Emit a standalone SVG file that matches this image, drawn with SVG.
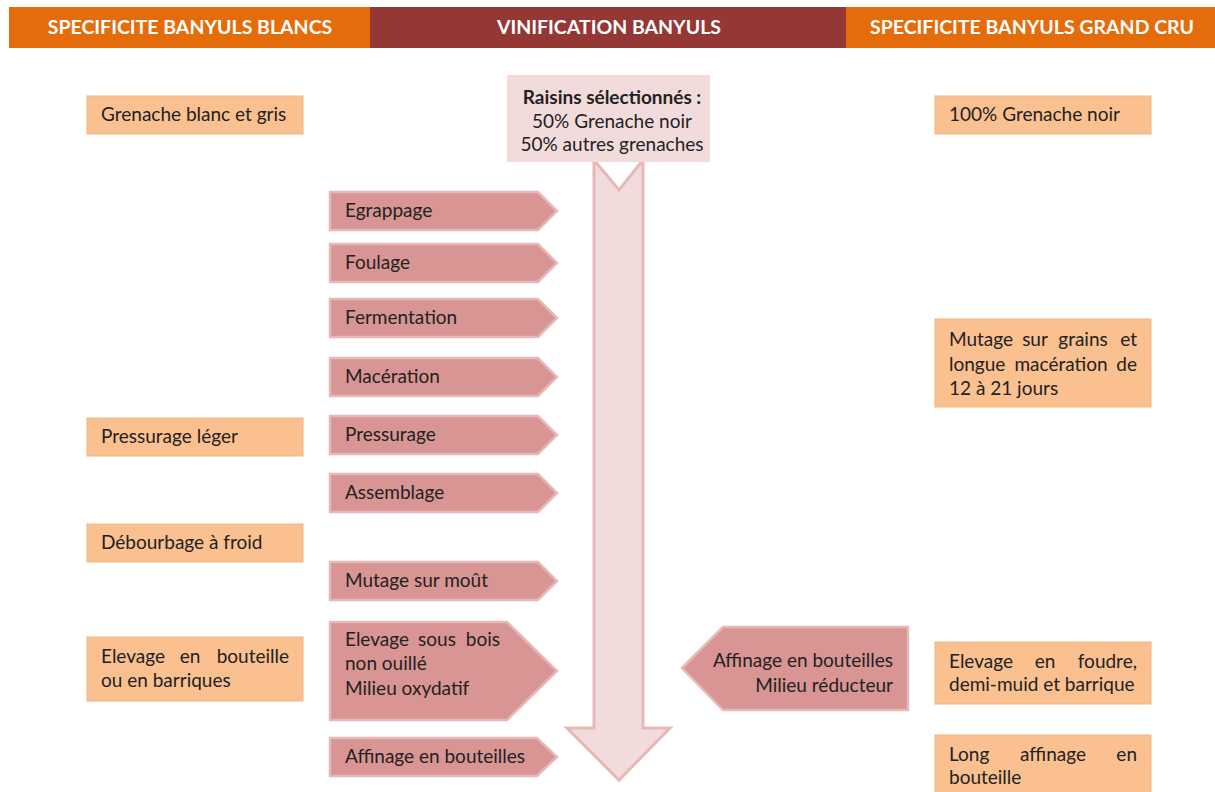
<svg xmlns="http://www.w3.org/2000/svg" width="1215" height="792" viewBox="0 0 1215 792">
<style>
.hdr{font-family:Lato,"Liberation Sans",sans-serif;font-weight:bold;font-size:19.5px;fill:#fff;text-anchor:middle}
.t{font-family:Lato,"Liberation Sans",sans-serif;font-size:19px;fill:#222}
.b{font-weight:bold}
.box{fill:#FAC090;stroke:#F2B583;stroke-width:1}
.pent{fill:#D99594;stroke:#E6B9B8;stroke-width:2.5}
.big{fill:#F2DCDB;stroke:#E6B9B8;stroke-width:3}
.top{fill:#F2DCDB;stroke:none}
</style>
<rect width="1215" height="792" fill="#fff"/>
<g id="header">
<rect x="9" y="7" width="361" height="41" fill="#E46C0A"/>
<rect x="370" y="7" width="476" height="41" fill="#953735"/>
<rect x="846" y="7" width="369" height="41" fill="#E46C0A"/>
<text class="hdr" x="190" y="34">SPECIFICITE BANYULS BLANCS</text>
<text class="hdr" x="609" y="34">VINIFICATION BANYULS</text>
<text class="hdr" x="1032" y="34">SPECIFICITE BANYULS GRAND CRU</text>
</g>
<g id="connectors">
<polygon class="big" points="594,160 619,190 643,160 643,728 670,728 619,780 567,728 594,728"/>
</g>
<g id="raisins">
<rect class="top" x="507" y="75" width="203" height="87"/>
<text class="t" text-anchor="middle" x="612"><tspan class="b" x="612" y="104">Raisins sélectionnés :</tspan><tspan x="612" y="128">50% Grenache noir</tspan><tspan x="612" y="151">50% autres grenaches</tspan></text>
</g>
<g id="egrappage">
<polygon class="pent" points="330,192 538,192 557,211 538,230 330,230"/>
<text class="t" x="345" y="217">Egrappage</text>
</g>
<g id="foulage">
<polygon class="pent" points="330,244 538,244 557,263 538,282 330,282"/>
<text class="t" x="345" y="269">Foulage</text>
</g>
<g id="fermentation">
<polygon class="pent" points="330,299 538,299 557,318 538,337 330,337"/>
<text class="t" x="345" y="324">Fermentation</text>
</g>
<g id="maceration">
<polygon class="pent" points="330,358 538,358 557,377 538,396 330,396"/>
<text class="t" x="345" y="383">Macération</text>
</g>
<g id="pressurage">
<polygon class="pent" points="330,416 538,416 557,435 538,454 330,454"/>
<text class="t" x="345" y="441">Pressurage</text>
</g>
<g id="assemblage">
<polygon class="pent" points="330,474 538,474 557,493 538,512 330,512"/>
<text class="t" x="345" y="499">Assemblage</text>
</g>
<g id="mutage-mout">
<polygon class="pent" points="330,562 538,562 557,581 538,600 330,600"/>
<text class="t" x="345" y="587">Mutage sur moût</text>
</g>
<g id="elevage-bois">
<polygon class="pent" points="330,622 507,622 557,671 507,720 330,720"/>
<text class="t"><tspan x="345" y="646">Elevage</tspan><tspan x="437" y="646" text-anchor="middle">sous</tspan><tspan x="500" y="646" text-anchor="end">bois</tspan><tspan x="345" y="670">non ouillé</tspan><tspan x="345" y="695">Milieu oxydatif</tspan></text>
</g>
<g id="affinage">
<polygon class="pent" points="330,738 537,738 557,757 537,776 330,776"/>
<text class="t" x="345" y="763">Affinage en bouteilles</text>
</g>
<g id="affinage-reducteur">
<polygon class="pent" points="682,668 723,627 908,627 908,710 723,710"/>
<text class="t" text-anchor="end"><tspan x="893" y="667">Affinage en bouteilles</tspan><tspan x="893" y="692">Milieu réducteur</tspan></text>
</g>
<g id="grenache-blanc">
<rect class="box" x="87" y="96" width="216" height="38"/>
<text class="t" x="101" y="121">Grenache blanc et gris</text>
</g>
<g id="pressurage-leger">
<rect class="box" x="87" y="418" width="216" height="38"/>
<text class="t" x="101" y="443">Pressurage léger</text>
</g>
<g id="debourbage">
<rect class="box" x="87" y="524" width="216" height="38"/>
<text class="t" x="101" y="549">Débourbage à froid</text>
</g>
<g id="elevage-bouteille">
<rect class="box" x="87" y="637" width="216" height="64"/>
<text class="t"><tspan x="101" y="663">Elevage</tspan><tspan x="190" y="663" text-anchor="middle">en</tspan><tspan x="289" y="663" text-anchor="end">bouteille</tspan><tspan x="101" y="687">ou en barriques</tspan></text>
</g>
<g id="grenache-noir">
<rect class="box" x="935" y="96" width="216" height="38"/>
<text class="t" x="949" y="121">100% Grenache noir</text>
</g>
<g id="mutage-grains">
<rect class="box" x="935" y="319" width="216" height="88"/>
<text class="t"><tspan x="949" y="346">Mutage</tspan><tspan x="1035" y="346" text-anchor="middle">sur</tspan><tspan x="1083" y="346" text-anchor="middle">grains</tspan><tspan x="1137" y="346" text-anchor="end">et</tspan><tspan x="949" y="371">longue</tspan><tspan x="1061" y="371" text-anchor="middle">macération</tspan><tspan x="1137" y="371" text-anchor="end">de</tspan><tspan x="949" y="395">12 à 21 jours</tspan></text>
</g>
<g id="elevage-foudre">
<rect class="box" x="935" y="642" width="216" height="62"/>
<text class="t"><tspan x="949" y="668">Elevage</tspan><tspan x="1045" y="668" text-anchor="middle">en</tspan><tspan x="1137" y="668" text-anchor="end">foudre,</tspan><tspan x="949" y="691">demi-muid et barrique</tspan></text>
</g>
<g id="long-affinage">
<rect class="box" x="935" y="735" width="216" height="60"/>
<text class="t"><tspan x="949" y="761">Long</tspan><tspan x="1053" y="761" text-anchor="middle">affinage</tspan><tspan x="1137" y="761" text-anchor="end">en</tspan><tspan x="949" y="784">bouteille</tspan></text>
</g>
</svg>
